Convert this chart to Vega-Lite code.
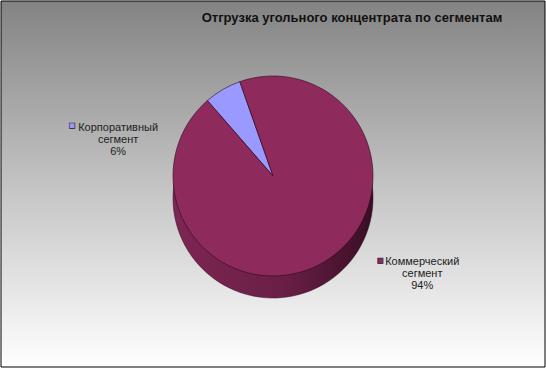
{
  "$schema": "https://vega.github.io/schema/vega-lite/v6.json",
  "width": 546,
  "height": 368,
  "autosize": {"type": "fit", "contains": "padding"},
  "padding": 0,
  "background": "#ffffff",
  "title": {
    "text": "Отгрузка угольного  концентрата  по сегментам",
    "font": "Liberation Sans",
    "fontSize": 13,
    "fontWeight": "bold",
    "color": "#111111",
    "anchor": "middle",
    "frame": "group",
    "dx": 79,
    "offset": -24
  },
  "config": {
    "view": {"stroke": "#000000", "strokeWidth": 1},
    "text": {"font": "Liberation Sans"}
  },
  "data": {
    "values": [
      {"segment": "Корпоративный сегмент", "idx": 0, "value": 6, "label": "Корпоративный\nсегмент\n6%"},
      {"segment": "Коммерческий сегмент", "idx": 1, "value": 94, "label": "Коммерческий\nсегмент\n94%"}
    ]
  },
  "layer": [
    {
      "data": {"values": [{"bg": 1}]},
      "mark": {
        "type": "rect",
        "fill": {
          "gradient": "linear",
          "x1": 0, "y1": 0, "x2": 0, "y2": 1,
          "stops": [
            {"offset": 0, "color": "#838383"},
            {"offset": 0.5, "color": "#c3c3c3"},
            {"offset": 1, "color": "#ffffff"}
          ]
        },
        "stroke": "#000000",
        "strokeWidth": 1
      }
    },
    {
      "mark": {
        "type": "arc",
        "outerRadius": 100,
        "yOffset": 14,
        "fill": {
          "gradient": "linear",
          "x1": 0, "y1": 0, "x2": 1, "y2": 0,
          "stops": [
            {"offset": 0, "color": "#7d2653"},
            {"offset": 0.55, "color": "#6a1f46"},
            {"offset": 1, "color": "#3a0e25"}
          ]
        },
        "stroke": "#2a0a1a",
        "strokeWidth": 0.5
      },
      "encoding": {
        "theta": {"field": "value", "type": "quantitative", "stack": true, "scale": {"range": [-0.7156, 5.5676]}},
        "order": {"field": "idx", "type": "quantitative"}
      }
    },
    {
      "mark": {"type": "arc", "outerRadius": 100, "yOffset": -8, "stroke": "#2a0a1a", "strokeWidth": 0.6},
      "encoding": {
        "theta": {"field": "value", "type": "quantitative", "stack": true, "scale": {"range": [-0.7156, 5.5676]}},
        "order": {"field": "idx", "type": "quantitative"},
        "color": {
          "field": "segment",
          "type": "nominal",
          "scale": {"domain": ["Корпоративный сегмент", "Коммерческий сегмент"], "range": ["#9999ff", "#8e2a5c"]},
          "legend": null
        }
      }
    },
    {
      "transform": [{"filter": "datum.idx == 0"}],
      "mark": {"type": "text", "radius": 125, "dx": -92, "dy": 52, "lineBreak": "\n", "fontSize": 11, "lineHeight": 12, "fill": "#222222", "align": "center", "baseline": "middle"},
      "encoding": {
        "theta": {"field": "value", "type": "quantitative", "stack": true, "scale": {"range": [-0.7156, 5.5676]}},
        "order": {"field": "idx", "type": "quantitative"},
        "text": {"field": "label"}
      }
    },
    {
      "transform": [{"filter": "datum.idx == 0"}],
      "mark": {"type": "text", "radius": 125, "dx": -138, "dy": 50, "fontSize": 11, "stroke": "#222222", "strokeWidth": 0.6, "align": "center", "baseline": "middle", "text": "■"},
      "encoding": {
        "theta": {"field": "value", "type": "quantitative", "stack": true, "scale": {"range": [-0.7156, 5.5676]}},
        "order": {"field": "idx", "type": "quantitative"},
        "color": {"field": "segment", "type": "nominal", "scale": {"domain": ["Корпоративный сегмент", "Коммерческий сегмент"], "range": ["#9999ff", "#8e2a5c"]}, "legend": null}
      }
    },
    {
      "transform": [{"filter": "datum.idx == 1"}],
      "mark": {"type": "text", "radius": 125, "dx": 51, "dy": 1, "lineBreak": "\n", "fontSize": 11, "lineHeight": 12, "fill": "#222222", "align": "center", "baseline": "middle"},
      "encoding": {
        "theta": {"field": "value", "type": "quantitative", "stack": true, "scale": {"range": [-0.7156, 5.5676]}},
        "order": {"field": "idx", "type": "quantitative"},
        "text": {"field": "label"}
      }
    },
    {
      "transform": [{"filter": "datum.idx == 1"}],
      "mark": {"type": "text", "radius": 125, "dx": 9, "dy": 0, "fontSize": 11, "stroke": "#222222", "strokeWidth": 0.6, "align": "center", "baseline": "middle", "text": "■"},
      "encoding": {
        "theta": {"field": "value", "type": "quantitative", "stack": true, "scale": {"range": [-0.7156, 5.5676]}},
        "order": {"field": "idx", "type": "quantitative"},
        "color": {"field": "segment", "type": "nominal", "scale": {"domain": ["Корпоративный сегмент", "Коммерческий сегмент"], "range": ["#9999ff", "#8e2a5c"]}, "legend": null}
      }
    }
  ]
}
